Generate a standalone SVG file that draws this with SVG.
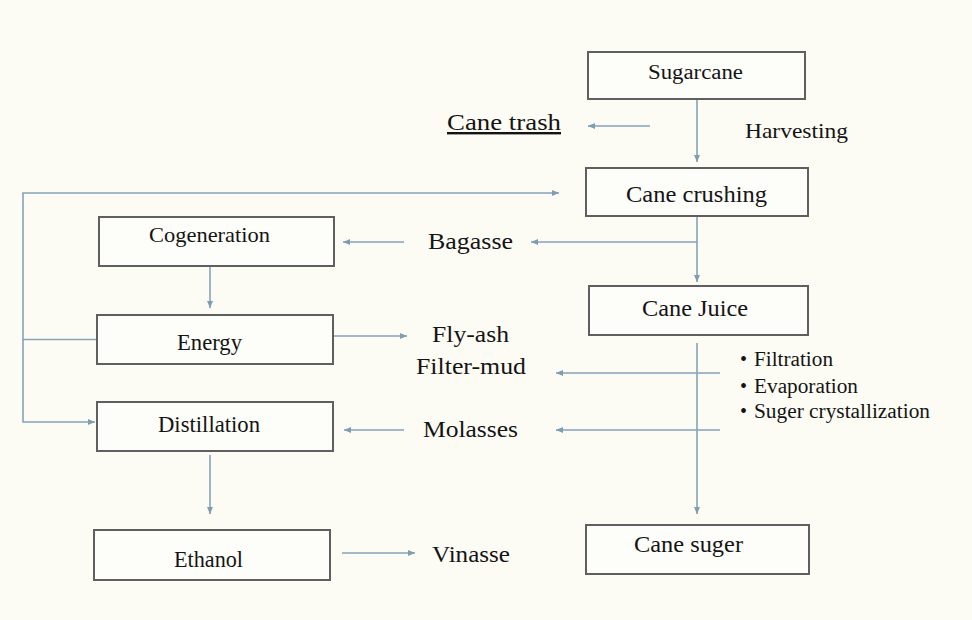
<svg xmlns="http://www.w3.org/2000/svg" width="972" height="620" viewBox="0 0 972 620">
<style>
.box{fill:#fdfdf9;stroke:#5f5f5f;stroke-width:2}
text{font-family:'Liberation Serif','DejaVu Serif',serif;fill:#141414}
.c{fill:none;stroke:#86a2b8;stroke-width:1.6}
.a{marker-end:url(#ah)}
</style>
<defs>
<marker id="ah" markerUnits="userSpaceOnUse" markerWidth="8" markerHeight="6" refX="7" refY="3" orient="auto">
<path d="M0,0 L7,3 L0,6 z" fill="#7f9cb3"/>
</marker>
</defs>
<rect width="972" height="620" fill="#fcfcf5"/>
<g id="connectors">
<path class="c a" d="M697,99 V162"/>
<path class="c a" d="M650,126 H588"/>
<path class="c a" d="M97,339.5 H23 V193 H559"/>
<path class="c a" d="M23,339.5 V422 H95"/>
<path class="c a" d="M697,216 V282"/>
<path class="c a" d="M697,242 H531"/>
<path class="c a" d="M404,242 H343"/>
<path class="c a" d="M210,266 V308"/>
<path class="c a" d="M333,336 H407"/>
<path class="c a" d="M697,343 V514"/>
<path class="c a" d="M720,373 H556"/>
<path class="c a" d="M720,430 H556"/>
<path class="c a" d="M404,430 H344"/>
<path class="c a" d="M210,455 V514"/>
<path class="c a" d="M342,553 H415"/>
</g>
<g font-family="Liberation Serif, serif">
<g id="sugarcane"><rect class="box" x="588" y="52" width="217" height="47"/><text x="648" y="79" font-size="20" textLength="95" lengthAdjust="spacingAndGlyphs">Sugarcane</text></g>
<g id="cane-trash"><text x="447" y="130" font-size="24" textLength="114" lengthAdjust="spacingAndGlyphs" text-decoration="underline">Cane trash</text></g>
<g id="harvesting"><text x="745" y="138" font-size="22" textLength="103" lengthAdjust="spacingAndGlyphs">Harvesting</text></g>
<g id="cane-crushing"><rect class="box" x="586" y="168" width="222" height="48"/><text x="626" y="201.5" font-size="22.5" textLength="141" lengthAdjust="spacingAndGlyphs">Cane crushing</text></g>
<g id="cogeneration"><rect class="box" x="99" y="217" width="235" height="49"/><text x="149" y="242" font-size="22" textLength="121" lengthAdjust="spacingAndGlyphs">Cogeneration</text></g>
<g id="bagasse"><text x="428" y="249" font-size="24" textLength="85" lengthAdjust="spacingAndGlyphs">Bagasse</text></g>
<g id="cane-juice"><rect class="box" x="589" y="286" width="219" height="49"/><text x="642" y="316" font-size="22.5" textLength="106" lengthAdjust="spacingAndGlyphs">Cane Juice</text></g>
<g id="energy"><rect class="box" x="97" y="315" width="236" height="49"/><text x="177" y="350" font-size="22.5" textLength="65" lengthAdjust="spacingAndGlyphs">Energy</text></g>
<g id="fly-ash"><text x="432" y="342" font-size="24" textLength="77" lengthAdjust="spacingAndGlyphs">Fly-ash</text></g>
<g id="filter-mud"><text x="416" y="374" font-size="24" textLength="110" lengthAdjust="spacingAndGlyphs">Filter-mud</text></g>
<g id="process-steps">
<text x="740" y="366" font-size="20">•</text><text x="754" y="366" font-size="20" textLength="79" lengthAdjust="spacingAndGlyphs">Filtration</text>
<text x="740" y="392.5" font-size="20">•</text><text x="754" y="392.5" font-size="20" textLength="104" lengthAdjust="spacingAndGlyphs">Evaporation</text>
<text x="740" y="418" font-size="20">•</text><text x="754" y="418" font-size="20" textLength="176" lengthAdjust="spacingAndGlyphs">Suger crystallization</text>
</g>
<g id="distillation"><rect class="box" x="97" y="402" width="236" height="49"/><text x="158" y="431.5" font-size="22.5" textLength="102" lengthAdjust="spacingAndGlyphs">Distillation</text></g>
<g id="molasses"><text x="423" y="437" font-size="24" textLength="95" lengthAdjust="spacingAndGlyphs">Molasses</text></g>
<g id="ethanol"><rect class="box" x="94" y="530" width="236" height="50"/><text x="174" y="566.5" font-size="22.5" textLength="69" lengthAdjust="spacingAndGlyphs">Ethanol</text></g>
<g id="vinasse"><text x="432" y="562" font-size="24" textLength="78" lengthAdjust="spacingAndGlyphs">Vinasse</text></g>
<g id="cane-suger"><rect class="box" x="586" y="525" width="223" height="49"/><text x="634" y="552" font-size="22.5" textLength="109" lengthAdjust="spacingAndGlyphs">Cane suger</text></g>
</g>
</svg>
